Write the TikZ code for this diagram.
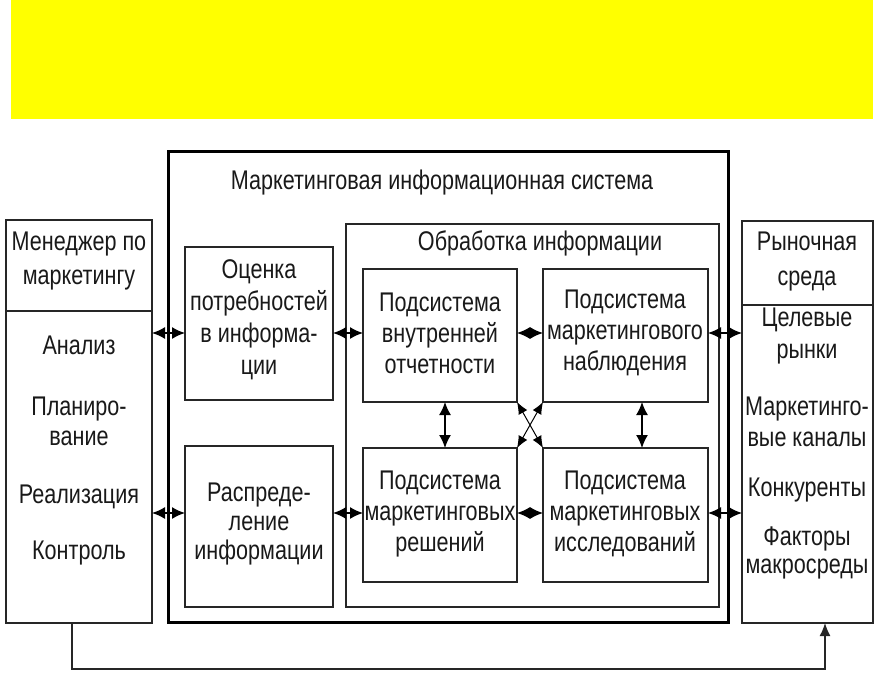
\documentclass[tikz,border=0pt]{standalone}
\usepackage{fontspec}
\setmainfont{Liberation Sans}[FakeStretch=0.8]
\usetikzlibrary{arrows.meta}
\definecolor{bandyellow}{RGB}{255,255,0}
\begin{document}
\begin{tikzpicture}[x=1pt,y=-1pt,
  every node/.style={inner sep=0pt,outer sep=0pt},
  txt/.style={font=\fontsize{27}{32}\selectfont,align=center,text=black!90},
  box/.style={draw=black!85,line width=1.4pt,anchor=north west},
  thickbox/.style={draw=black,line width=3pt,anchor=north west},
  dbl/.style={draw=black,line width=1.5pt,{Latex[length=13pt,width=12pt]}-{Latex[length=13pt,width=12pt]}},
  dblsm/.style={draw=black,line width=1pt,{Latex[length=12pt,width=10pt]}-{Latex[length=12pt,width=10pt]}},
  fb/.style={draw=black!85,line width=1.4pt,-{Latex[length=13pt,width=11pt]}}]
\useasboundingbox (0,0) rectangle (877,676);
\fill[bandyellow] (11,0) rectangle (873,119);
% outer system
\node[thickbox,minimum width=560pt,minimum height=470pt] (mis) at (168,152) {};
% manager
\node[box,minimum width=146pt,minimum height=91pt] (mgrT) at (6,220) {};
\node[box,minimum width=146pt,minimum height=312pt] (mgrB) at (6,311) {};
% market
\node[box,minimum width=131pt,minimum height=84pt] (mkT) at (742,221) {};
\node[box,minimum width=131pt,minimum height=318pt] (mkB) at (742,305) {};
% left column
\node[box,minimum width=148pt,minimum height=153pt] (otsenka) at (185,247) {};
\node[box,minimum width=148pt,minimum height=161pt] (raspr) at (185,446) {};
% processing
\node[box,minimum width=373pt,minimum height=383pt] (obr) at (346,224) {};
\node[box,minimum width=154pt,minimum height=133pt] (s1) at (363,269) {};
\node[box,minimum width=165pt,minimum height=133pt] (s2) at (543,269) {};
\node[box,minimum width=154pt,minimum height=134pt] (s3) at (363,448) {};
\node[box,minimum width=165pt,minimum height=134pt] (s4) at (543,448) {};
% texts
\node[txt] (tmis) at (442,183) {Маркетинговая информационная система};
\node[txt] (tobr) at (540,243) {Обработка информации};
\node[txt,font=\fontsize{27}{34}\selectfont] (tmgr) at (79,261) {Менеджер по\\маркетингу};
\node[txt] (t1) at (79,345) {Анализ};
\node[txt,font=\fontsize{27}{30}\selectfont] (t2) at (79,421) {Планиро-\\вание};
\node[txt] (t3) at (79,497) {Реализация};
\node[txt] (t4) at (79,553) {Контроль};
\node[txt,font=\fontsize{27}{35}\selectfont] (tmk) at (807,262) {Рыночная\\среда};
\node[txt] (m1) at (807,336) {Целевые\\рынки};
\node[txt,font=\fontsize{27}{31}\selectfont] (m2) at (807,422) {Маркетинго-\\вые каналы};
\node[txt] (m3) at (807,490) {Конкуренты};
\node[txt,font=\fontsize{27}{28}\selectfont] (m4) at (807,553) {Факторы\\макросреды};
\node[txt] (tots) at (259,320) {Оценка\\потребностей\\в информа-\\ции};
\node[txt,font=\fontsize{27}{29}\selectfont] (trasp) at (259,524) {Распреде-\\ление\\информации};
\node[txt,font=\fontsize{27}{31}\selectfont] (ts1) at (440,333) {Подсистема\\внутренней\\отчетности};
\node[txt,font=\fontsize{27}{31}\selectfont] (ts2) at (625,333) {Подсистема\\маркетингового\\наблюдения};
\node[txt,font=\fontsize{27}{31}\selectfont] (ts3) at (440,514) {Подсистема\\маркетинговых\\решений};
\node[txt,font=\fontsize{27}{31}\selectfont] (ts4) at (625,514) {Подсистема\\маркетинговых\\исследований};
% helper coordinates
\coordinate (rowA) at (0,333);
\coordinate (rowB) at (0,513);
\coordinate (colA) at (445,0);
\coordinate (colB) at (642,0);
\coordinate (fbA) at (72,669);
\coordinate (fbB) at (825,669);
% connectors
\draw[dbl] (mgrB.east |- rowA) -- (otsenka.west |- rowA);
\draw[dbl] (mgrB.east |- rowB) -- (raspr.west |- rowB);
\draw[dbl] (otsenka.east |- rowA) -- (s1.west |- rowA);
\draw[dbl] (raspr.east |- rowB) -- (s3.west |- rowB);
\draw[dbl] (s1.east |- rowA) -- (s2.west |- rowA);
\draw[dbl] (s3.east |- rowB) -- (s4.west |- rowB);
\draw[dbl] (s2.east |- rowA) -- (mkB.west |- rowA);
\draw[dbl] (s4.east |- rowB) -- (mkB.west |- rowB);
\draw[dbl] (s1.south -| colA) -- (s3.north -| colA);
\draw[dbl] (s2.south -| colB) -- (s4.north -| colB);
\draw[dblsm] (s1.south east) -- (s4.north west);
\draw[dblsm] (s2.south west) -- (s3.north east);
\draw[fb] (mgrB.south -| fbA) -- (fbA) -- (fbB) -- (mkB.south -| fbB);
\end{tikzpicture}
\end{document}
